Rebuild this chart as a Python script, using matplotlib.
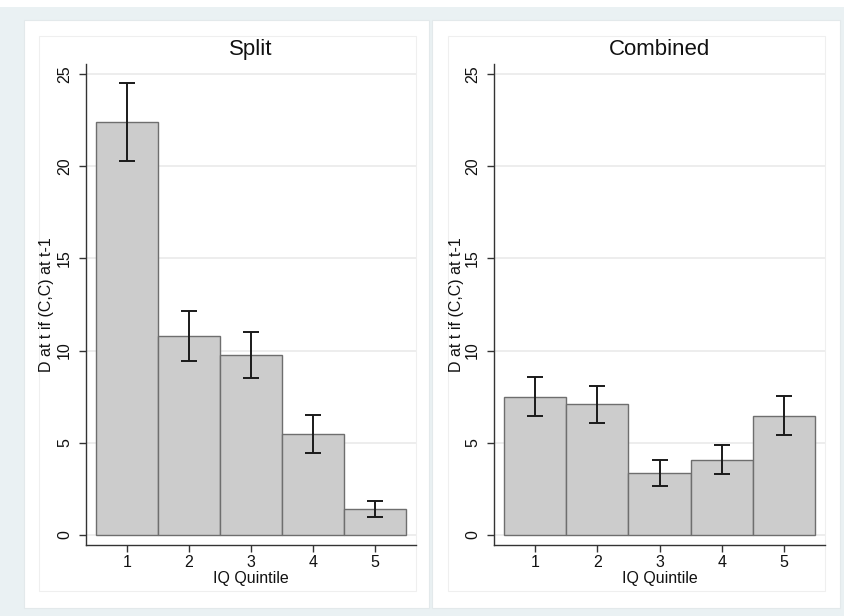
import matplotlib
matplotlib.use("Agg")
import matplotlib.pyplot as plt
from matplotlib.patches import Rectangle

plt.rcParams['font.family'] = ['Liberation Sans', 'DejaVu Sans']

# datos
quintiles = [1, 2, 3, 4, 5]
split_mean = [22.4, 10.8, 9.75, 5.45, 1.4]
split_lo = [20.3, 9.45, 8.5, 4.45, 0.97]
split_hi = [24.5, 12.15, 11.0, 6.52, 1.86]
comb_mean = [7.47, 7.08, 3.35, 4.08, 6.44]
comb_lo = [6.47, 6.07, 2.66, 3.29, 5.42]
comb_hi = [8.55, 8.1, 4.08, 4.9, 7.52]
titulos = ['Split', 'Combined']
yticks = [0, 5, 10, 15, 20, 25]

W, H = 844, 616
fig = plt.figure(figsize=(W / 100, H / 100), dpi=100)
fig.patch.set_facecolor('white')


def rect(x0, y0, x1, y1, fc, ec='none', lw=1.0):
    # coordenadas en pixeles desde arriba a la izquierda
    r = Rectangle((x0 / W, 1 - y1 / H), (x1 - x0) / W, (y1 - y0) / H,
                  transform=fig.transFigure, facecolor=fc, edgecolor=ec,
                  linewidth=lw, zorder=-10)
    fig.patches.append(r)


rect(0, 7, W, H, '#eaf1f3')
rect(24, 20, 429, 608, 'white', '#e3e9eb', 0.8)
rect(432, 20, 840, 608, 'white', '#e3e9eb', 0.8)
rect(39, 36, 416, 591, 'white', '#efefef', 0.8)
rect(448, 36, 825, 591, 'white', '#efefef', 0.8)

paneles = [
    (86, 416, 47, split_mean, split_lo, split_hi),
    (494, 825, 457, comb_mean, comb_lo, comb_hi),
]
top, bottom = 64, 545

for i, (x0, x1, ylab_x, mean, lo, hi) in enumerate(paneles):
    ax = fig.add_axes([x0 / W, 1 - bottom / H, (x1 - x0) / W, (bottom - top) / H])
    ax.set_facecolor('none')
    ax.bar(quintiles, mean, width=1.0, color='#cccccc', edgecolor='#6e6e6e',
           linewidth=1.0, zorder=2)
    yerr = [[m - l for m, l in zip(mean, lo)], [h - m for m, h in zip(mean, hi)]]
    ax.errorbar(quintiles, mean, yerr=yerr, fmt='none', ecolor='#1a1a1a',
                elinewidth=1.4, capsize=5.5, capthick=1.4, zorder=3)
    ax.set_xlim(0.34, 5.66)
    ax.set_ylim(-0.55, 25.55)
    ax.set_yticks(yticks)
    ax.set_yticklabels([str(t) for t in yticks], rotation=90, va='center')
    ax.set_xticks(quintiles)
    ax.grid(axis='y', color='#eaeaea', linewidth=1.2, zorder=0)
    ax.set_axisbelow(True)
    for s in ['top', 'right']:
        ax.spines[s].set_visible(False)
    for s in ['left', 'bottom']:
        ax.spines[s].set_color('#333333')
        ax.spines[s].set_linewidth(1.0)
    ax.tick_params(axis='both', direction='out', length=5, width=1.0,
                   color='#333333', labelsize=11.5, labelcolor='#111111')
    ax.tick_params(axis='y', pad=5)
    ax.tick_params(axis='x', pad=2)
    cx = (x0 + x1) / 2
    fig.text(cx / W, 1 - 55 / H, titulos[i], ha='center', va='baseline',
             fontsize=16, color='#111111')
    fig.text(cx / W, 1 - 578 / H, 'IQ Quintile', ha='center', va='center',
             fontsize=11.5, color='#111111')
    fig.text(ylab_x / W, 1 - 305 / H, 'D at t if (C,C) at t-1', ha='center',
             va='center', rotation=90, fontsize=11.5, color='#111111')

fig.savefig('out.png', dpi=100)
